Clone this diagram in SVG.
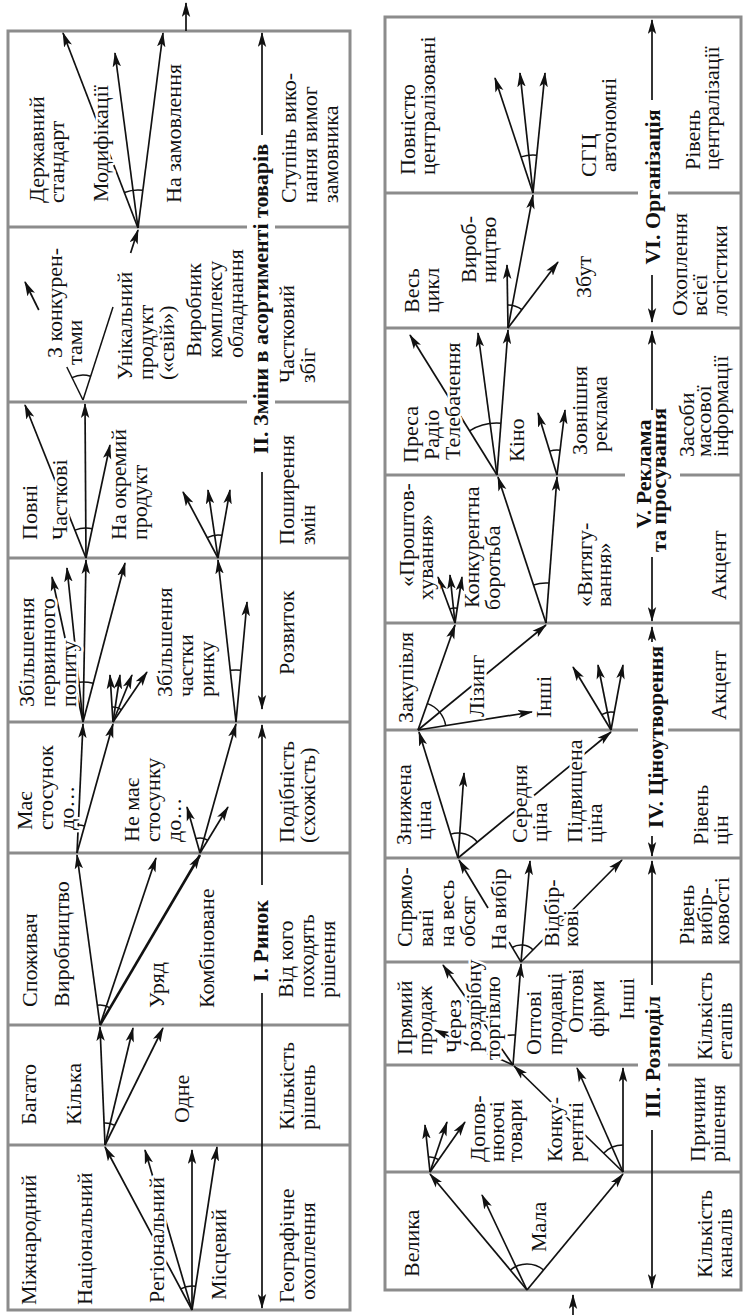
<svg xmlns="http://www.w3.org/2000/svg" width="746" height="1315" viewBox="0 0 746 1315">
<style>
.b{fill:none;stroke:#8c8c8c;stroke-width:3}
.a{fill:none;stroke:#111;stroke-width:1.7;marker-end:url(#ah)}
.k{fill:none;stroke:#111;stroke-width:2.6;marker-end:url(#ah)}
.l{fill:none;stroke:#111;stroke-width:1.5}
text{font-family:"Liberation Serif","Times New Roman",serif;font-size:22px;fill:#111;stroke:#fff;stroke-width:5;stroke-linejoin:round;paint-order:stroke}
.h{font-weight:bold;text-anchor:middle}
</style>
<defs>
<marker id="ah" viewBox="0 0 15 9" refX="14" refY="4.5" markerWidth="15" markerHeight="9" markerUnits="userSpaceOnUse" orient="auto"><path d="M0,0.3 L15,4.5 L0,8.7 L3.5,4.5 z" fill="#111"/></marker>
</defs>
<rect width="746" height="1315" fill="#fff"/>
<g id="frames">
<rect class="b" x="8" y="31" width="342" height="1279"/>
<path class="b" d="M8,227H247M275,227H350M8,402H247M275,402H350M8,558H350M8,722H350M8,853H350M8,1025H350M8,1145H350"/>
<rect class="b" x="385" y="17" width="356" height="1273"/>
<path class="b" d="M385,193H638M668,193H741M385,328H741M385,475H625M680,475H741M385,623H741M385,730H638M668,730H741M385,858H741M385,962H741M385,1065H638M668,1065H741M385,1172H741"/>
</g>
<g id="connectors">
<line class="a" x1="186" y1="31" x2="186" y2="3"/>
<line class="a" x1="573" y1="1315" x2="573" y2="1295"/>
<line class="a" x1="262" y1="135" x2="262" y2="33"/>
<line class="a" x1="262" y1="472" x2="262" y2="709"/>
<line class="a" x1="262" y1="885" x2="262" y2="725"/>
<line class="a" x1="262" y1="993" x2="262" y2="1308"/>
<line class="a" x1="652" y1="100" x2="652" y2="20"/>
<line class="a" x1="652" y1="275" x2="652" y2="322"/>
<line class="a" x1="652" y1="410" x2="652" y2="331"/>
<line class="a" x1="652" y1="557" x2="652" y2="621"/>
<line class="a" x1="652" y1="642" x2="652" y2="627"/>
<line class="a" x1="652" y1="836" x2="652" y2="856"/>
<line class="a" x1="652" y1="985" x2="652" y2="861"/>
<line class="a" x1="652" y1="1130" x2="652" y2="1288"/>
<line class="a" x1="138" y1="228" x2="63" y2="33"/>
<line class="a" x1="138" y1="228" x2="115" y2="53"/>
<line class="a" x1="138" y1="228" x2="163" y2="33"/>
<path class="l" d="M124.4,192.5A38,38 0 0 1 142.8,190.3"/>
<line class="l" x1="83" y1="400" x2="66.8" y2="367"/>
<line class="a" x1="38.8" y1="310" x2="25" y2="282"/>
<line class="l" x1="83" y1="400" x2="113" y2="307"/>
<line class="a" x1="130.6" y1="253" x2="138" y2="230"/>
<path class="l" d="M72,377.6A25,25 0 0 1 90.6,376.2"/>
<line class="a" x1="86" y1="558" x2="85" y2="404"/>
<line class="a" x1="86" y1="558" x2="110" y2="445"/>
<line class="a" x1="86" y1="558" x2="25" y2="405"/>
<path class="l" d="M74.9,530.1A30,30 0 0 1 92.2,528.7"/>
<line class="a" x1="218" y1="558" x2="183" y2="492"/>
<line class="a" x1="218" y1="558" x2="208" y2="490"/>
<line class="a" x1="218" y1="558" x2="230" y2="490"/>
<path class="l" d="M207.2,537.7A23,23 0 0 1 222,535.3"/>
<line class="a" x1="83" y1="722" x2="86" y2="560"/>
<line class="a" x1="83" y1="722" x2="125" y2="563"/>
<line class="a" x1="83" y1="722" x2="67" y2="568"/>
<line class="a" x1="83" y1="722" x2="52" y2="577"/>
<path class="l" d="M78.9,682.2A40,40 0 0 1 93.2,683.3"/>
<line class="a" x1="113" y1="722" x2="110" y2="675"/>
<line class="a" x1="113" y1="722" x2="120" y2="675"/>
<line class="a" x1="113" y1="722" x2="132" y2="675"/>
<line class="a" x1="113" y1="722" x2="147" y2="672"/>
<path class="l" d="M112,707A15,15 0 0 1 121.4,709.6"/>
<line class="a" x1="236" y1="722" x2="218" y2="560"/>
<line class="a" x1="236" y1="722" x2="247" y2="602"/>
<path class="l" d="M230.2,670.3A52,52 0 0 1 240.7,670.2"/>
<line class="a" x1="77" y1="853" x2="83" y2="724"/>
<line class="a" x1="77" y1="853" x2="113" y2="724"/>
<path class="l" d="M78.3,825A28,28 0 0 1 84.6,826"/>
<line class="a" x1="200" y1="853" x2="236" y2="724"/>
<line class="a" x1="200" y1="853" x2="187" y2="807"/>
<line class="a" x1="200" y1="853" x2="228" y2="807"/>
<path class="l" d="M195.5,838.7A15,15 0 0 1 207.9,840.3"/>
<line class="a" x1="100" y1="1025" x2="77" y2="855"/>
<line class="a" x1="100" y1="1025" x2="156" y2="858"/>
<line class="k" x1="100" y1="1025" x2="200" y2="855"/>
<path class="l" d="M97.3,1005.2A20,20 0 0 1 110.1,1007.8"/>
<line class="a" x1="105" y1="1145" x2="100" y2="1027"/>
<line class="a" x1="105" y1="1145" x2="133" y2="1028"/>
<line class="a" x1="105" y1="1145" x2="163" y2="1028"/>
<path class="l" d="M104.1,1123A22,22 0 0 1 114.8,1125.3"/>
<line class="a" x1="192" y1="1310" x2="105" y2="1147"/>
<line class="a" x1="192" y1="1310" x2="145" y2="1150"/>
<line class="a" x1="192" y1="1310" x2="192" y2="1150"/>
<line class="a" x1="192" y1="1310" x2="217" y2="1147"/>
<path class="l" d="M180.7,1288.8A24,24 0 0 1 195.6,1286.3"/>
<line class="a" x1="533" y1="193" x2="495" y2="78"/>
<line class="a" x1="533" y1="193" x2="520" y2="73"/>
<line class="a" x1="533" y1="193" x2="545" y2="73"/>
<path class="l" d="M521.1,156.9A38,38 0 0 1 536.8,155.2"/>
<line class="a" x1="508" y1="328" x2="533" y2="195"/>
<line class="a" x1="508" y1="328" x2="507" y2="265"/>
<line class="a" x1="508" y1="328" x2="558" y2="262"/>
<path class="l" d="M507.6,305A23,23 0 0 1 521.9,309.7"/>
<line class="a" x1="497" y1="475" x2="508" y2="330"/>
<line class="a" x1="497" y1="475" x2="478" y2="333"/>
<line class="a" x1="497" y1="475" x2="410" y2="335"/>
<path class="l" d="M469.5,430.8A52,52 0 0 1 500.9,423.2"/>
<line class="a" x1="557" y1="475" x2="538" y2="413"/>
<line class="a" x1="557" y1="475" x2="565" y2="410"/>
<path class="l" d="M549.7,451.1A25,25 0 0 1 560.1,450.2"/>
<line class="a" x1="546" y1="623" x2="498" y2="477"/>
<line class="a" x1="546" y1="623" x2="557" y2="477"/>
<path class="l" d="M533.4,585A40,40 0 0 1 549,583.1"/>
<line class="a" x1="455" y1="623" x2="438" y2="577"/>
<line class="a" x1="455" y1="623" x2="450" y2="575"/>
<line class="a" x1="455" y1="623" x2="462" y2="577"/>
<path class="l" d="M449.8,608.9A15,15 0 0 1 457.3,608.2"/>
<line class="a" x1="418" y1="730" x2="455" y2="625"/>
<line class="a" x1="418" y1="730" x2="546" y2="625"/>
<line class="a" x1="418" y1="730" x2="532" y2="712"/>
<path class="l" d="M427.5,703.6A28,28 0 0 1 445.7,725.6"/>
<line class="a" x1="611" y1="730" x2="573" y2="667"/>
<line class="a" x1="611" y1="730" x2="598" y2="665"/>
<line class="a" x1="611" y1="730" x2="623" y2="665"/>
<path class="l" d="M601.7,714.6A18,18 0 0 1 614.3,712.3"/>
<line class="a" x1="458" y1="858" x2="419" y2="732"/>
<line class="a" x1="458" y1="858" x2="464" y2="773"/>
<line class="a" x1="458" y1="858" x2="611" y2="732"/>
<path class="l" d="M450.7,834.1A25,25 0 0 1 477.4,842.2"/>
<line class="l" x1="521" y1="962" x2="509" y2="942"/>
<line class="a" x1="488" y1="908" x2="459" y2="860"/>
<line class="a" x1="521" y1="962" x2="530" y2="861"/>
<line class="a" x1="521" y1="962" x2="622" y2="860"/>
<path class="l" d="M512.1,947.5A17,17 0 0 1 533,949.9"/>
<line class="a" x1="513" y1="1065" x2="521" y2="964"/>
<line class="a" x1="513" y1="1065" x2="443" y2="965"/>
<line class="a" x1="513" y1="1065" x2="435" y2="1030"/>
<path class="l" d="M495.8,1040.4A30,30 0 0 1 515.4,1035.1"/>
<line class="a" x1="430" y1="1172" x2="425" y2="1125"/>
<line class="a" x1="430" y1="1172" x2="447" y2="1122"/>
<line class="a" x1="430" y1="1172" x2="465" y2="1122"/>
<path class="l" d="M428.4,1157.1A15,15 0 0 1 438.6,1159.7"/>
<line class="a" x1="623" y1="1172" x2="577" y2="1068"/>
<line class="a" x1="623" y1="1172" x2="623" y2="1068"/>
<line class="a" x1="623" y1="1172" x2="514" y2="1066"/>
<path class="l" d="M603.6,1153.2A27,27 0 0 1 623,1145"/>
<line class="a" x1="527" y1="1290" x2="430" y2="1174"/>
<line class="a" x1="527" y1="1290" x2="482" y2="1195"/>
<line class="a" x1="527" y1="1290" x2="623" y2="1174"/>
<path class="l" d="M510.2,1270.1A26,26 0 0 1 543.7,1270"/>
</g>
<g id="titles">
<text class="h" transform="rotate(-90)" x="-299" y="268">II. Зміни в асортименті товарів</text>
<text class="h" transform="rotate(-90)" x="-941" y="268">I. Ринок</text>
<text class="h" transform="rotate(-90)" x="-187" y="660">VI. Організація</text>
<text class="h" transform="rotate(-90)"><tspan x="-474" y="651">V. Реклама</tspan><tspan x="-480" y="666">та просування</tspan></text>
<text class="h" transform="rotate(-90)" x="-737" y="663">IV. Ціноутворення</text>
<text class="h" transform="rotate(-90)" x="-1057" y="660">III. Розподіл</text>
</g>
<g id="n1"><text transform="rotate(-90)"><tspan x="-203" y="44">Державний</tspan><tspan x="-203" y="64">стандарт</tspan></text></g>
<g id="n2"><text transform="rotate(-90)" x="-202" y="108">Модифікації</text></g>
<g id="n3"><text transform="rotate(-90)" x="-203" y="181">На замовлення</text></g>
<g id="n4"><text transform="rotate(-90)"><tspan x="-203" y="296">Ступінь вико-</tspan><tspan x="-203" y="317">нання вимог</tspan><tspan x="-203" y="338">замовника</tspan></text></g>
<g id="n5"><text transform="rotate(-90)"><tspan x="-358" y="62">З конкурен-</tspan><tspan x="-365" y="82">тами</tspan></text></g>
<g id="n6"><text transform="rotate(-90)"><tspan x="-380" y="132">Унікальний</tspan><tspan x="-380" y="153">продукт</tspan><tspan x="-380" y="174">(«свій»)</tspan></text></g>
<g id="n7"><text transform="rotate(-90)"><tspan x="-357" y="201">Виробник</tspan><tspan x="-358" y="222">комплексу</tspan><tspan x="-358" y="243">обладнання</tspan></text></g>
<g id="n8"><text transform="rotate(-90)"><tspan x="-383" y="294">Частковий</tspan><tspan x="-383" y="315">збіг</tspan></text></g>
<g id="n9"><text transform="rotate(-90)" x="-540" y="37">Повні</text></g>
<g id="n10"><text transform="rotate(-90)" x="-540" y="67">Часткові</text></g>
<g id="n11"><text transform="rotate(-90)"><tspan x="-540" y="126">На окремий</tspan><tspan x="-540" y="147">продукт</tspan></text></g>
<g id="n12"><text transform="rotate(-90)"><tspan x="-545" y="294">Поширення</tspan><tspan x="-545" y="315">змін</tspan></text></g>
<g id="n13"><text transform="rotate(-90)"><tspan x="-707" y="34">Збільшення</tspan><tspan x="-707" y="55">первинного</tspan><tspan x="-707" y="76">попиту</tspan></text></g>
<g id="n14"><text transform="rotate(-90)"><tspan x="-697" y="172">Збільшення</tspan><tspan x="-697" y="193">частки</tspan><tspan x="-697" y="214">ринку</tspan></text></g>
<g id="n15"><text transform="rotate(-90)" x="-675" y="294">Розвиток</text></g>
<g id="n16"><text transform="rotate(-90)"><tspan x="-830" y="32">Має</tspan><tspan x="-830" y="53">стосунок</tspan><tspan x="-830" y="74">до…</tspan></text></g>
<g id="n17"><text transform="rotate(-90)"><tspan x="-842" y="139">Не має</tspan><tspan x="-842" y="160">стосунку</tspan><tspan x="-842" y="181">до…</tspan></text></g>
<g id="n18"><text transform="rotate(-90)"><tspan x="-843" y="294">Подібність</tspan><tspan x="-843" y="315">(схожість)</tspan></text></g>
<g id="n19"><text transform="rotate(-90)" x="-1007" y="37">Споживач</text></g>
<g id="n20"><text transform="rotate(-90)" x="-1007" y="69">Виробництво</text></g>
<g id="n21"><text transform="rotate(-90)" x="-1008" y="164">Уряд</text></g>
<g id="n22"><text transform="rotate(-90)" x="-1008" y="214">Комбіноване</text></g>
<g id="n23"><text transform="rotate(-90)"><tspan x="-998" y="293">Від кого</tspan><tspan x="-998" y="314">походять</tspan><tspan x="-998" y="335">рішення</tspan></text></g>
<g id="n24"><text transform="rotate(-90)" x="-1125" y="36">Багато</text></g>
<g id="n25"><text transform="rotate(-90)" x="-1125" y="81">Кілька</text></g>
<g id="n26"><text transform="rotate(-90)" x="-1123" y="189">Одне</text></g>
<g id="n27"><text transform="rotate(-90)"><tspan x="-1130" y="294">Кількість</tspan><tspan x="-1130" y="315">рішень</tspan></text></g>
<g id="n28"><text transform="rotate(-90)" x="-1305" y="36">Міжнародний</text></g>
<g id="n29"><text transform="rotate(-90)" x="-1305" y="92">Національний</text></g>
<g id="n30"><text transform="rotate(-90)" x="-1303" y="164">Регіональний</text></g>
<g id="n31"><text transform="rotate(-90)" x="-1300" y="226">Місцевий</text></g>
<g id="n32"><text transform="rotate(-90)"><tspan x="-1303" y="294">Географічне</tspan><tspan x="-1300" y="315">охоплення</tspan></text></g>
<g id="n33"><text transform="rotate(-90)"><tspan x="-175" y="415">Повністю</tspan><tspan x="-175" y="435">централізовані</tspan></text></g>
<g id="n34"><text transform="rotate(-90)"><tspan x="-177" y="596">СГЦ</tspan><tspan x="-172" y="616">автономні</tspan></text></g>
<g id="n35"><text transform="rotate(-90)"><tspan x="-170" y="700">Рівень</tspan><tspan x="-170" y="719">централізації</tspan></text></g>
<g id="n36"><text transform="rotate(-90)"><tspan x="-313" y="419">Весь</tspan><tspan x="-313" y="439">цикл</tspan></text></g>
<g id="n37"><text transform="rotate(-90)"><tspan x="-283" y="476">Вироб-</tspan><tspan x="-283" y="496">ництво</tspan></text></g>
<g id="n38"><text transform="rotate(-90)" x="-298" y="591">Збут</text></g>
<g id="n39"><text transform="rotate(-90)"><tspan x="-316" y="687">Охоплення</tspan><tspan x="-316" y="707">всієї</tspan><tspan x="-316" y="727">логістики</tspan></text></g>
<g id="n40"><text transform="rotate(-90)"><tspan x="-463" y="418">Преса</tspan><tspan x="-460" y="439">Радіо</tspan><tspan x="-460" y="460">Телебачення</tspan></text></g>
<g id="n41"><text transform="rotate(-90)" x="-462" y="524">Кіно</text></g>
<g id="n42"><text transform="rotate(-90)"><tspan x="-455" y="587">Зовнішня</tspan><tspan x="-452" y="607">реклама</tspan></text></g>
<g id="n43"><text transform="rotate(-90)"><tspan x="-457" y="694">Засоби</tspan><tspan x="-457" y="711">масової</tspan><tspan x="-457" y="728">інформації</tspan></text></g>
<g id="n44"><text transform="rotate(-90)"><tspan x="-587" y="414">«Проштов-</tspan><tspan x="-600" y="433">хування»</tspan></text></g>
<g id="n45"><text transform="rotate(-90)"><tspan x="-608" y="479">Конкурентна</tspan><tspan x="-610" y="500">боротьба</tspan></text></g>
<g id="n46"><text transform="rotate(-90)"><tspan x="-607" y="592">«Витягу-</tspan><tspan x="-607" y="611">вання»</tspan></text></g>
<g id="n47"><text transform="rotate(-90)" x="-600" y="726">Акцент</text></g>
<g id="n48"><text transform="rotate(-90)" x="-723" y="413">Закупівля</text></g>
<g id="n49"><text transform="rotate(-90)" x="-717" y="484">Лізинг</text></g>
<g id="n50"><text transform="rotate(-90)" x="-718" y="551">Інші</text></g>
<g id="n51"><text transform="rotate(-90)" x="-720" y="726">Акцент</text></g>
<g id="n52"><text transform="rotate(-90)"><tspan x="-845" y="411">Знижена</tspan><tspan x="-840" y="431">ціна</tspan></text></g>
<g id="n53"><text transform="rotate(-90)"><tspan x="-843" y="527">Середня</tspan><tspan x="-842" y="547">ціна</tspan></text></g>
<g id="n54"><text transform="rotate(-90)"><tspan x="-843" y="582">Підвищена</tspan><tspan x="-843" y="602">ціна</tspan></text></g>
<g id="n55"><text transform="rotate(-90)"><tspan x="-845" y="708">Рівень</tspan><tspan x="-845" y="728">цін</tspan></text></g>
<g id="n56"><text transform="rotate(-90)"><tspan x="-947" y="412">Спрямо-</tspan><tspan x="-947" y="433">вані</tspan><tspan x="-947" y="454">на весь</tspan><tspan x="-947" y="475">обсяг</tspan></text></g>
<g id="n57"><text transform="rotate(-90)" x="-950" y="506">На вибір</text></g>
<g id="n58"><text transform="rotate(-90)"><tspan x="-947" y="559">Відбір-</tspan><tspan x="-947" y="578">кові</tspan></text></g>
<g id="n59"><text transform="rotate(-90)"><tspan x="-945" y="694">Рівень</tspan><tspan x="-945" y="712">вибір-</tspan><tspan x="-945" y="729">ковості</tspan></text></g>
<g id="n60"><text transform="rotate(-90)"><tspan x="-1055" y="412">Прямий</tspan><tspan x="-1055" y="432">продаж</tspan></text></g>
<g id="n61"><text transform="rotate(-90)"><tspan x="-1053" y="461">Через</tspan><tspan x="-1052" y="481">роздрібну</tspan><tspan x="-1060" y="500">торгівлю</tspan></text></g>
<g id="n62"><text transform="rotate(-90)"><tspan x="-1055" y="541">Оптові</tspan><tspan x="-1055" y="562">продавці</tspan></text></g>
<g id="n63"><text transform="rotate(-90)"><tspan x="-1033" y="583">Оптові</tspan><tspan x="-1037" y="604">фірми</tspan></text></g>
<g id="n64"><text transform="rotate(-90)" x="-1020" y="634">Інші</text></g>
<g id="n65"><text transform="rotate(-90)"><tspan x="-1060" y="712">Кількість</tspan><tspan x="-1060" y="732">етапів</tspan></text></g>
<g id="n66"><text transform="rotate(-90)"><tspan x="-1162" y="485">Допов-</tspan><tspan x="-1162" y="504">нюючі</tspan><tspan x="-1162" y="522">товари</tspan></text></g>
<g id="n67"><text transform="rotate(-90)"><tspan x="-1162" y="562">Конку-</tspan><tspan x="-1162" y="583">рентні</tspan></text></g>
<g id="n68"><text transform="rotate(-90)"><tspan x="-1162" y="705">Причини</tspan><tspan x="-1162" y="725">рішення</tspan></text></g>
<g id="n69"><text transform="rotate(-90)" x="-1277" y="419">Велика</text></g>
<g id="n70"><text transform="rotate(-90)" x="-1252" y="546">Мала</text></g>
<g id="n71"><text transform="rotate(-90)"><tspan x="-1278" y="712">Кількість</tspan><tspan x="-1278" y="732">каналів</tspan></text></g>
</svg>
